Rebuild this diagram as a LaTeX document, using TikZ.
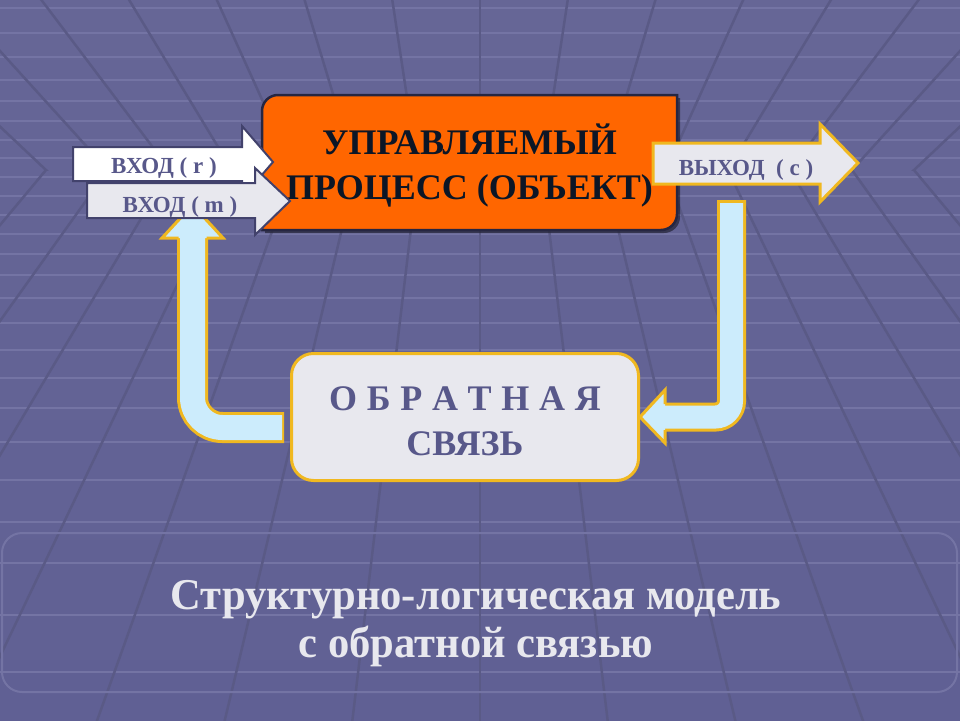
\documentclass[tikz,border=0pt]{standalone}
\usepackage{fontspec}
\setmainfont{Liberation Serif}
\usetikzlibrary{calc,positioning}

\definecolor{bgtop}{RGB}{102,102,150}
\definecolor{bgmid}{RGB}{80,80,122}
\definecolor{bgbot}{RGB}{96,96,148}
\definecolor{rowline}{RGB}{116,116,164}
\definecolor{joint}{RGB}{90,90,134}
\definecolor{procorange}{RGB}{255,102,0}
\definecolor{procedge}{RGB}{38,38,66}
\definecolor{proctext}{RGB}{12,22,38}
\definecolor{slate}{RGB}{88,88,138}
\definecolor{inedge}{RGB}{66,66,108}
\definecolor{gold}{RGB}{240,184,32}
\definecolor{skyfill}{RGB}{204,236,252}
\definecolor{paper}{RGB}{232,232,238}
\definecolor{captiontext}{RGB}{232,232,238}

\tikzset{
  arrowtext/.style={font=\fontsize{23}{23}\selectfont\bfseries,text=slate,anchor=base,inner sep=0pt},
  inframe/.style={draw=inedge,line width=2pt,line join=miter},
  outframe/.style={draw=gold,fill=paper,line width=3pt,line join=miter},
  fatrim/.style={draw=gold,line width=31pt},
  fatcore/.style={draw=skyfill,line width=25pt},
  headrim/.style={draw=gold,line width=3pt,line join=miter},
  fbbox/.style={draw=gold,fill=paper,line width=3pt,rounded corners=22pt,
    minimum width=347pt,minimum height=127pt,inner sep=0pt,align=center,
    text=slate,font=\fontsize{36}{45}\selectfont\bfseries},
}

\begin{document}
\begin{tikzpicture}[x=1pt,y=-1pt]
\useasboundingbox (0,0) rectangle (960,720);
% background tunnel
\shade[top color=bgtop,middle color=bgmid,bottom color=bgbot] (0,0) rectangle (960,720);
\foreach \r in {8,33,57,80,101,121,140,158,177,196,215,234,254,275,298,323,350,378,408,442,480,522,563,615,672}
  \draw[rowline,line width=2.5pt] (0,\r) -- (960,\r);
\begin{scope}
\clip (0,0) rectangle (960,170);
\foreach \k in {-14,...,14}
  \draw[joint,line width=2.5pt] (480,580) -- ($(480,580)!2!(480+62*\k,170)$);
\end{scope}
\begin{scope}
\clip (0,170) rectangle (960,720);
\foreach \k in {-14,...,14}
  \draw[joint,line width=2.5pt] (480+62*\k,170) -- ($(480,-350)!3!(480+62*\k,170)$);
\end{scope}
\draw[rowline,line width=2pt,rounded corners=20pt] (2,533) rectangle (957,692);

% controlled process
\fill[black,opacity=.45] (265,233) -- (265,114) arc[start angle=180,end angle=90,radius=16pt] -- (680,98) -- (680,217) arc[start angle=0,end angle=-90,radius=16pt] -- cycle;
\draw[procedge,fill=procorange,line width=2.5pt] (262,230) -- (262,111) arc[start angle=180,end angle=90,radius=16pt] -- (677,95) -- (677,214) arc[start angle=0,end angle=-90,radius=16pt] -- cycle;
\node[font=\fontsize{36}{45}\selectfont\bfseries,text=proctext,align=center,inner sep=0pt] (process) at (469.5,166) {УПРАВЛЯЕМЫЙ\\ПРОЦЕСС (ОБЪЕКТ)};

% feedback
\node[fbbox] (feedback) at (465,417) {\rule{0pt}{32pt}{\addfontfeature{LetterSpace=2}О Б Р А Т Н А Я}\\СВЯЗЬ};

% feedback loop arrows
\coordinate (fbl) at ([shift={(-6pt,-10.5pt)}]feedback.west);
\coordinate (fbin) at (192.5,238);
\draw[fatrim,rounded corners=30pt] (fbl) -| (fbin);
\draw[fatcore,rounded corners=30pt] ([xshift=-2pt]fbl) -| (fbin);
\fill[skyfill] (162,238) -- (192.5,205) -- (223,238) -- cycle;
\draw[headrim] (178.5,238) -- (162,238) -- (192.5,205) -- (223,238) -- (206.5,238);

\coordinate (outdown) at (731.5,200);
\coordinate (fbr) at ([xshift=25pt]feedback.east);
\draw[gold,line width=29pt,rounded corners=16pt] (outdown) |- (fbr);
\draw[skyfill,line width=23pt,rounded corners=16pt] ([yshift=-3pt]outdown) |- (fbr);
\fill[skyfill] (fbr) -- (665,390) -- (feedback.east) -- (665,443) -- cycle;
\draw[headrim] (665,404) -- (665,390) -- (feedback.east) -- (665,443) -- (665,430);

% inputs
\draw[inframe,fill=white] (73,147) -- (242,147) -- (242,126) -- (273,162) -- (242,198) -- (242,181) -- (73,181) -- cycle;
\node[arrowtext] (inr) at (164,173) {ВХОД ( r )};
\draw[inframe,fill=paper] (87,183) -- (255,183) -- (255,168) -- (290,201) -- (255,235) -- (255,218) -- (87,218) -- cycle;
\node[arrowtext] (inm) at (180,212) {ВХОД ( m )};

% output
\draw[outframe] (653,143) -- (820,143) -- (820,124) -- (858,163) -- (820,202) -- (820,184) -- (653,184) -- cycle;
\node[arrowtext] (out) at (746,175) {ВЫХОД~ ( c )};

% caption
\node[font=\fontsize{44}{48}\selectfont\bfseries,text=captiontext,align=center,inner sep=0pt,xscale=.967,transform shape] (caption) at (476,624) {Структурно-логическая модель\\с обратной связью};
\end{tikzpicture}
\end{document}
